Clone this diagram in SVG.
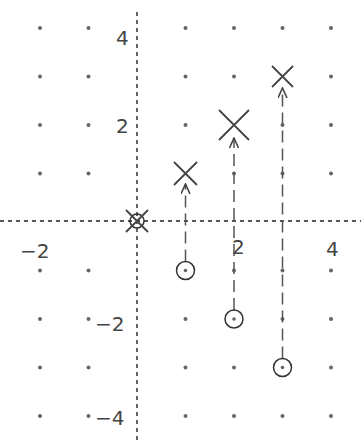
<svg xmlns="http://www.w3.org/2000/svg" width="361" height="442" viewBox="0 0 361 442">
<defs>
<style>
.dot{fill:#666}
.axis{stroke:#555;stroke-width:1.8;stroke-dasharray:4 4;fill:none}
.move{stroke:#555;stroke-width:1.5;stroke-dasharray:12 6;fill:none}
.x{stroke:#444;stroke-width:1.8;fill:none}
.ring{stroke:#333;stroke-width:1.5;fill:none}
.lbl{font-family:"DejaVu Sans","Liberation Sans",sans-serif;font-size:20px;fill:#444}
</style>
<marker id="ah" viewBox="0 0 12 10" refX="11" refY="5" markerWidth="12" markerHeight="10" markerUnits="userSpaceOnUse" orient="auto">
<path d="M1,0.5 L11,5 L1,9.5" fill="none" stroke="#444" stroke-width="1.6"/>
</marker>
</defs>
<rect width="361" height="442" fill="#fff"/>
<g id="grid">
<g class="dot">
<circle cx="40" cy="28" r="2"/><circle cx="88.5" cy="28" r="2"/><circle cx="185.5" cy="28" r="2"/><circle cx="234" cy="28" r="2"/><circle cx="282.5" cy="28" r="2"/><circle cx="331" cy="28" r="2"/>
<circle cx="40" cy="76.5" r="2"/><circle cx="88.5" cy="76.5" r="2"/><circle cx="185.5" cy="76.5" r="2"/><circle cx="234" cy="76.5" r="2"/><circle cx="331" cy="76.5" r="2"/>
<circle cx="40" cy="125" r="2"/><circle cx="88.5" cy="125" r="2"/><circle cx="185.5" cy="125" r="2"/><circle cx="282.5" cy="125" r="2"/><circle cx="331" cy="125" r="2"/>
<circle cx="40" cy="173.5" r="2"/><circle cx="88.5" cy="173.5" r="2"/><circle cx="234" cy="173.5" r="2"/><circle cx="282.5" cy="173.5" r="2"/><circle cx="331" cy="173.5" r="2"/>
<circle cx="40" cy="270.5" r="2"/><circle cx="88.5" cy="270.5" r="2"/><circle cx="234" cy="270.5" r="2"/><circle cx="282.5" cy="270.5" r="2"/><circle cx="331" cy="270.5" r="2"/>
<circle cx="40" cy="319" r="2"/><circle cx="88.5" cy="319" r="2"/><circle cx="185.5" cy="319" r="2"/><circle cx="282.5" cy="319" r="2"/><circle cx="331" cy="319" r="2"/>
<circle cx="40" cy="367.5" r="2"/><circle cx="88.5" cy="367.5" r="2"/><circle cx="185.5" cy="367.5" r="2"/><circle cx="234" cy="367.5" r="2"/><circle cx="331" cy="367.5" r="2"/>
<circle cx="40" cy="416" r="2"/><circle cx="88.5" cy="416" r="2"/><circle cx="185.5" cy="416" r="2"/><circle cx="234" cy="416" r="2"/><circle cx="282.5" cy="416" r="2"/><circle cx="331" cy="416" r="2"/>
</g>
</g>
<g id="axes">
<line class="axis" x1="0" y1="221" x2="361" y2="221"/>
<line class="axis" x1="137" y1="12" x2="137" y2="442"/>
<text class="lbl" x="116" y="45">4</text>
<text class="lbl" x="116" y="133">2</text>
<text class="lbl" x="20" y="258">−2</text>
<text class="lbl" x="232" y="254">2</text>
<text class="lbl" x="326" y="256">4</text>
<text class="lbl" x="95" y="331">−2</text>
<text class="lbl" x="95" y="425">−4</text>
</g>
<g id="connectors">
<line class="move" x1="185.5" y1="261.5" x2="185.5" y2="184" marker-end="url(#ah)"/>
<line class="move" x1="234" y1="310" x2="234" y2="138" marker-end="url(#ah)"/>
<line class="move" x1="282.5" y1="358.5" x2="282.5" y2="88" marker-end="url(#ah)"/>
</g>
<g id="origin">
<circle class="ring" cx="137" cy="221" r="7"/>
<path class="x" d="M126,210 L148,232 M148,210 L126,232"/>
</g>
<g id="x1">
<path class="x" d="M174,162 L197,185 M197,162 L174,185"/>
</g>
<g id="x2">
<path class="x" d="M219,110 L249,140 M249,110 L219,140"/>
</g>
<g id="x3">
<path class="x" d="M272,66 L293,87 M293,66 L272,87"/>
</g>
<g id="o1">
<circle class="ring" cx="185.5" cy="270.5" r="9"/><circle class="dot" cx="185.5" cy="270.5" r="1.8"/>
</g>
<g id="o2">
<circle class="ring" cx="234" cy="319" r="9"/><circle class="dot" cx="234" cy="319" r="1.8"/>
</g>
<g id="o3">
<circle class="ring" cx="282.5" cy="367.5" r="9"/><circle class="dot" cx="282.5" cy="367.5" r="1.8"/>
</g>
</svg>
